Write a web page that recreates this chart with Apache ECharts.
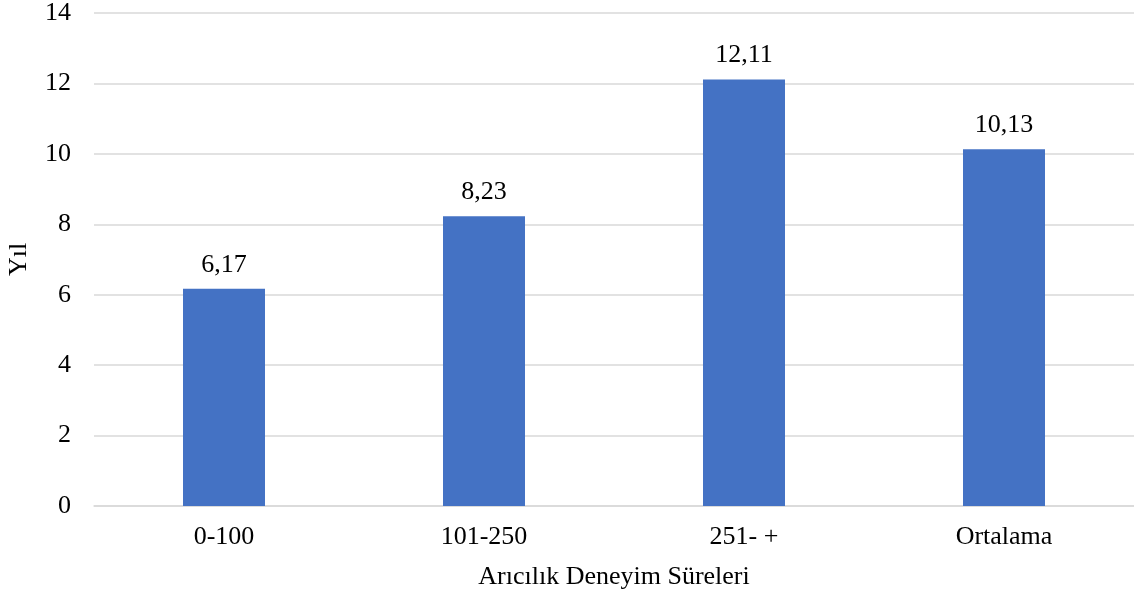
<!DOCTYPE html>
<html><head><meta charset="utf-8">
<script src="https://cdn.jsdelivr.net/npm/echarts@6/dist/echarts.min.js"></script>
<style>html,body{margin:0;padding:0;background:#fff}#c{width:1134px;height:596px}</style>
</head><body><div id="c"></div>
<script>
const categories = ['0-100', '101-250', '251- +', 'Ortalama'];
const values = [6.17, 8.23, 12.11, 10.13];
const yTicks = [0, 2, 4, 6, 8, 10, 12, 14];
const xTitle = 'Arıcılık Deneyim Süreleri';
const yTitle = 'Yıl';

const font = 'Liberation Serif';
const fs = 26;
const chart = echarts.init(document.getElementById('c'), null, {renderer: 'canvas'});
chart.setOption({
  animation: false,
  textStyle: {fontFamily: font},
  grid: {left: 94, right: 0, top: 13, bottom: 90, containLabel: false, outerBoundsMode: 'none'},
  xAxis: {
    type: 'category', data: categories,
    axisLine: {lineStyle: {color: '#d9d9d9', width: 1.5}},
    axisTick: {show: false},
    axisLabel: {color: '#000', fontSize: fs, fontFamily: font, margin: 18},
    name: xTitle, nameLocation: 'middle', nameGap: 58,
    nameTextStyle: {color: '#000', fontSize: fs, fontFamily: font}
  },
  yAxis: {
    type: 'value', min: yTicks[0], max: yTicks[yTicks.length - 1], interval: 2,
    axisLine: {show: false}, axisTick: {show: false},
    splitLine: {lineStyle: {color: '#d9d9d9', width: 1.5}},
    axisLabel: {color: '#000', fontSize: fs, fontFamily: font, margin: 23},
    name: yTitle, nameLocation: 'middle', nameGap: 62, nameRotate: 90,
    nameTextStyle: {color: '#000', fontSize: fs, fontFamily: font}
  },
  series: [{
    type: 'bar', data: values, barWidth: 82,
    itemStyle: {color: '#4472C4'},
    label: {show: true, position: 'top', distance: 11, color: '#000', fontSize: fs, fontFamily: font,
      formatter: p => p.value.toFixed(2).replace('.', ',')}
  }]
});
</script></body></html>
